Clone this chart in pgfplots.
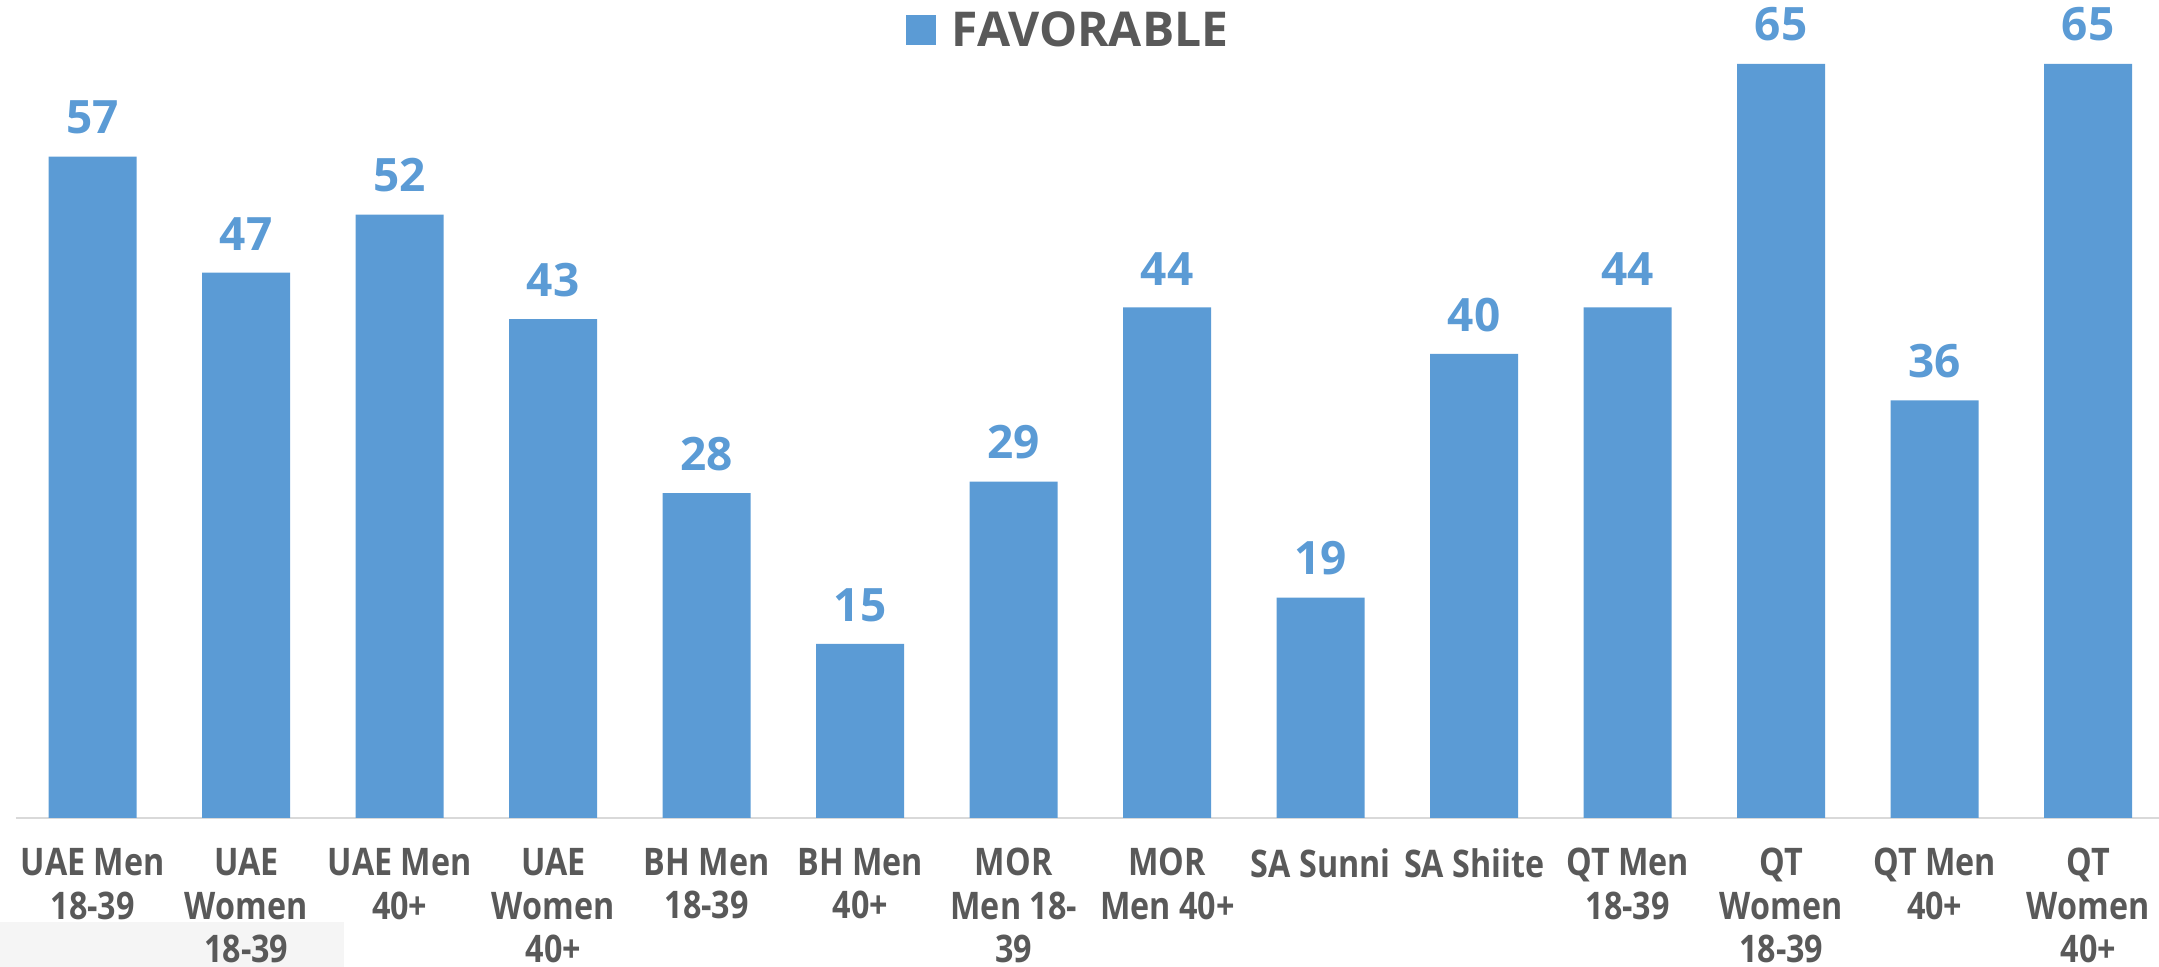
\documentclass[border=0pt]{standalone}
\usepackage{fontspec}
\setmainfont{Open Sans}
\newfontfamily\condfont[FakeStretch=0.85]{Open Sans}
\usepackage{pgfplots}
\pgfplotsset{compat=1.18}
\definecolor{barblue}{HTML}{5B9BD5}
\definecolor{txtgray}{HTML}{595959}
\definecolor{axgray}{HTML}{D9D9D9}
\definecolor{faint}{HTML}{F5F5F5}
\begin{document}
\begin{tikzpicture}[x=1pt,y=1pt]
\path[use as bounding box] (0,0) rectangle (1079.5,483.5);
\fill[faint] (0,0) rectangle (172,22.5);
\begin{axis}[
  at={(8pt,74.5pt)}, anchor=south west,
  scale only axis, width=1074.5pt, height=409pt,
  xmin=-0.5, xmax=13.5, ymin=0, ymax=70.5,
  axis x line*=bottom, axis y line=none,
  x axis line style={-, draw=axgray, line width=1pt},
  xtick={0,...,13}, major tick length=0pt, xtick style={draw=none},
  xticklabels={{UAE Men\\18-39},{UAE\\Women\\18-39},{UAE Men\\40+},{UAE\\Women\\40+},{BH Men\\18-39},{BH Men\\40+},{MOR\\Men 18-\\39},{MOR\\Men 40+},{SA Sunni},{SA Shiite},{QT Men\\18-39},{QT\\Women\\18-39},{QT Men\\40+},{QT\\Women\\40+}},
  xticklabel style={font=\condfont\bfseries\fontsize{19}{21.7}\selectfont, text=txtgray, align=center, inner sep=0pt, anchor=north, yshift=-15pt},
  ytick=\empty,
  ybar, bar width=44pt,
  /pgf/number format/assume math mode=true,
  nodes near coords,
  nodes near coords style={font=\bfseries\fontsize{23}{27}\selectfont, text=barblue, inner sep=0pt, anchor=south, yshift=11pt},
  legend style={draw=none, fill=none, at={(0.490,0.963)}, anchor=center, font=\bfseries\fontsize{24}{28}\selectfont, text=txtgray, inner sep=0pt},
  legend image code/.code={\fill[barblue] (0pt,-7.5pt) rectangle (15pt,7.5pt); \path (21pt,0pt);},
  clip=false,
]
\addplot[fill=barblue, draw=none] coordinates {
(0,57) (1,47) (2,52) (3,43) (4,28) (5,15) (6,29) (7,44) (8,19) (9,40) (10,44) (11,65) (12,36) (13,65)};
\addlegendentry{FAVORABLE}
\end{axis}
\end{tikzpicture}
\end{document}
